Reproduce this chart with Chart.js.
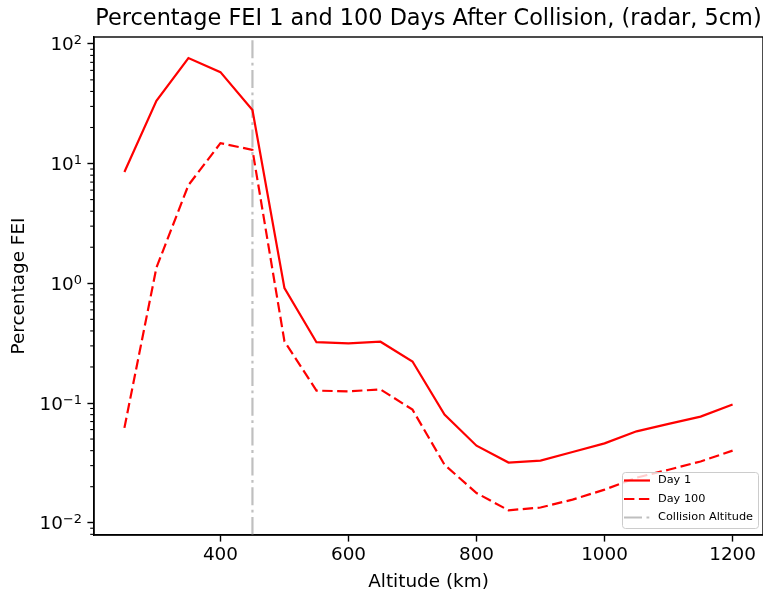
<!DOCTYPE html>
<html>
<head>
<meta charset="utf-8">
<script src="https://cdn.jsdelivr.net/npm/chart.js@4.4.0/dist/chart.umd.min.js"></script>
<style>
  html, body { margin: 0; padding: 0; background: #fff; }
</style>
</head>
<body>
<canvas id="myChart" width="763" height="596"></canvas>
<script>
// altitude bins (km)
var altitudes = [250, 300, 350, 400, 450, 500, 550, 600, 650, 700, 750,
                 800, 850, 900, 950, 1000, 1050, 1100, 1150, 1200];
// percentage FEI
var day1 = [8.5, 33.4, 76, 58, 28, 0.91, 0.322, 0.315, 0.325, 0.222, 0.08,
            0.044, 0.0318, 0.033, 0.039, 0.046, 0.058, 0.067, 0.077, 0.097];
var day100 = [0.062, 1.35, 6.6, 14.8, 13, 0.327, 0.127, 0.125, 0.13, 0.088, 0.0305,
              0.0177, 0.0127, 0.0134, 0.0156, 0.0189, 0.0238, 0.0277, 0.0325, 0.040];
var collisionAltitude = 450;

var xTicks = [400, 600, 800, 1000, 1200];
var yTicks = [0.01, 0.1, 1, 10, 100];
var yTickExponents = ['\u22122', '\u22121', '0', '1', '2'];

var FONT = '"DejaVu Sans", sans-serif';
var lw = 2.2;
var dashed = [10.4, 4.5];
var dashDot = [18, 4.5, 2.8, 4.5];

function pts(arr) {
    return altitudes.map(function(a, i) { return {x: a, y: arr[i]}; });
}

// collision line, frame, title, log tick labels, minor ticks and legend
var extras = {
    id: 'extras',
    beforeDatasetsDraw: function(chart) {
        var ctx = chart.ctx, ca = chart.chartArea;
        var x = chart.scales.x.getPixelForValue(collisionAltitude);
        ctx.save();
        ctx.beginPath();
        ctx.rect(ca.left, ca.top, ca.right - ca.left, ca.bottom - ca.top);
        ctx.clip();
        ctx.strokeStyle = '#bfbfbf';
        ctx.lineWidth = lw;
        ctx.setLineDash(dashDot);
        ctx.beginPath();
        ctx.moveTo(x, ca.bottom);
        ctx.lineTo(x, ca.top);
        ctx.stroke();
        ctx.restore();
    },
    afterDraw: function(chart) {
        var ctx = chart.ctx, ca = chart.chartArea;
        var ys = chart.scales.y;
        ctx.save();
        // frame
        ctx.strokeStyle = '#000';
        ctx.lineWidth = 1.4;
        ctx.strokeRect(ca.left, ca.top, ca.right - ca.left, ca.bottom - ca.top);
        // minor log ticks
        ctx.lineWidth = 1.1;
        for (var e = -3; e <= 2; e++) {
            for (var k = 2; k <= 9; k++) {
                var v = k * Math.pow(10, e);
                if (v < ys.min || v > ys.max) continue;
                var py = ys.getPixelForValue(v);
                ctx.beginPath();
                ctx.moveTo(ca.left - 3.8, py);
                ctx.lineTo(ca.left, py);
                ctx.stroke();
            }
        }
        // y tick labels as 10 with a raised exponent
        ctx.fillStyle = '#000';
        ctx.textAlign = 'right';
        ctx.textBaseline = 'alphabetic';
        var labelRight = ca.left - 12;
        yTicks.forEach(function(v, i) {
            var py = ys.getPixelForValue(v);
            ctx.font = '12.9px ' + FONT;
            var ew = ctx.measureText(yTickExponents[i]).width;
            ctx.fillText(yTickExponents[i], labelRight, py + 0.5);
            ctx.font = '18.4px ' + FONT;
            ctx.fillText('10', labelRight - ew, py + 6.6);
        });
        // title
        ctx.font = '22.4px ' + FONT;
        ctx.textAlign = 'center';
        ctx.fillText('Percentage FEI 1 and 100 Days After Collision, (radar, 5cm)', (ca.left + ca.right) / 2, 25);

        // legend
        var bx = ca.right - 141, by = ca.bottom - 63, bw = 136, bh = 56;
        ctx.fillStyle = 'rgba(255,255,255,0.8)';
        ctx.strokeStyle = '#cccccc';
        ctx.lineWidth = 1;
        ctx.setLineDash([]);
        ctx.beginPath();
        ctx.roundRect(bx + 0.5, by + 0.5, bw, bh, 3);
        ctx.fill();
        ctx.stroke();
        var items = [
            {label: 'Day 1', color: 'red', dash: []},
            {label: 'Day 100', color: 'red', dash: dashed},
            {label: 'Collision Altitude', color: '#bfbfbf', dash: dashDot}
        ];
        ctx.font = '11.3px ' + FONT;
        ctx.textAlign = 'left';
        ctx.textBaseline = 'middle';
        items.forEach(function(it, i) {
            var y = by + 8.5 + i * 18.5;
            ctx.strokeStyle = it.color;
            ctx.lineWidth = lw;
            ctx.setLineDash(it.dash);
            ctx.beginPath();
            ctx.moveTo(bx + 2, y);
            ctx.lineTo(bx + 28, y);
            ctx.stroke();
            ctx.fillStyle = '#000';
            ctx.fillText(it.label, bx + 36, y);
        });
        ctx.restore();
    }
};

var ctx = document.getElementById('myChart').getContext('2d');
var myChart = new Chart(ctx, {
    type: 'line',
    data: {
        datasets: [{
            label: 'Day 1',
            data: pts(day1),
            borderColor: 'red',
            borderWidth: lw,
            pointRadius: 0,
            tension: 0
        }, {
            label: 'Day 100',
            data: pts(day100),
            borderColor: 'red',
            borderWidth: lw,
            borderDash: dashed,
            pointRadius: 0,
            tension: 0
        }]
    },
    options: {
        responsive: false,
        animation: false,
        layout: { padding: { top: 37, left: 0, right: 0, bottom: 0 } },
        plugins: {
            legend: { display: false },
            tooltip: { enabled: false }
        },
        scales: {
            x: {
                type: 'linear',
                min: 202.5,
                max: 1247.5,
                afterBuildTicks: function(scale) {
                    scale.ticks = xTicks.map(function(v) { return {value: v}; });
                },
                afterFit: function(scale) { scale.height = 61; },
                grid: { drawOnChartArea: false, drawTicks: true, tickLength: 6.6, color: '#000', tickWidth: 1.4 },
                border: { display: true, color: '#000', width: 1.4 },
                ticks: {
                    autoSkip: false, maxRotation: 0, padding: 3, color: '#000',
                    font: { family: FONT, size: 18.4 },
                    callback: function(v) { return String(v); }
                },
                title: {
                    display: true, text: 'Altitude (km)', color: '#000',
                    font: { family: FONT, size: 18.4 }, padding: { top: 2, bottom: 3 }
                }
            },
            y: {
                type: 'logarithmic',
                min: 0.0079,
                max: 114,
                afterBuildTicks: function(scale) {
                    scale.ticks = yTicks.map(function(v) { return {value: v}; });
                },
                afterFit: function(scale) { scale.width = 94; },
                grid: { drawOnChartArea: false, drawTicks: true, tickLength: 6.6, color: '#000', tickWidth: 1.4 },
                border: { display: true, color: '#000', width: 1.4 },
                ticks: { display: false, autoSkip: false },
                title: {
                    display: true, text: 'Percentage FEI', color: '#000',
                    font: { family: FONT, size: 18.4 }, padding: { top: 8, bottom: 2 }
                }
            }
        }
    },
    plugins: [extras]
});
</script>
</body>
</html>
